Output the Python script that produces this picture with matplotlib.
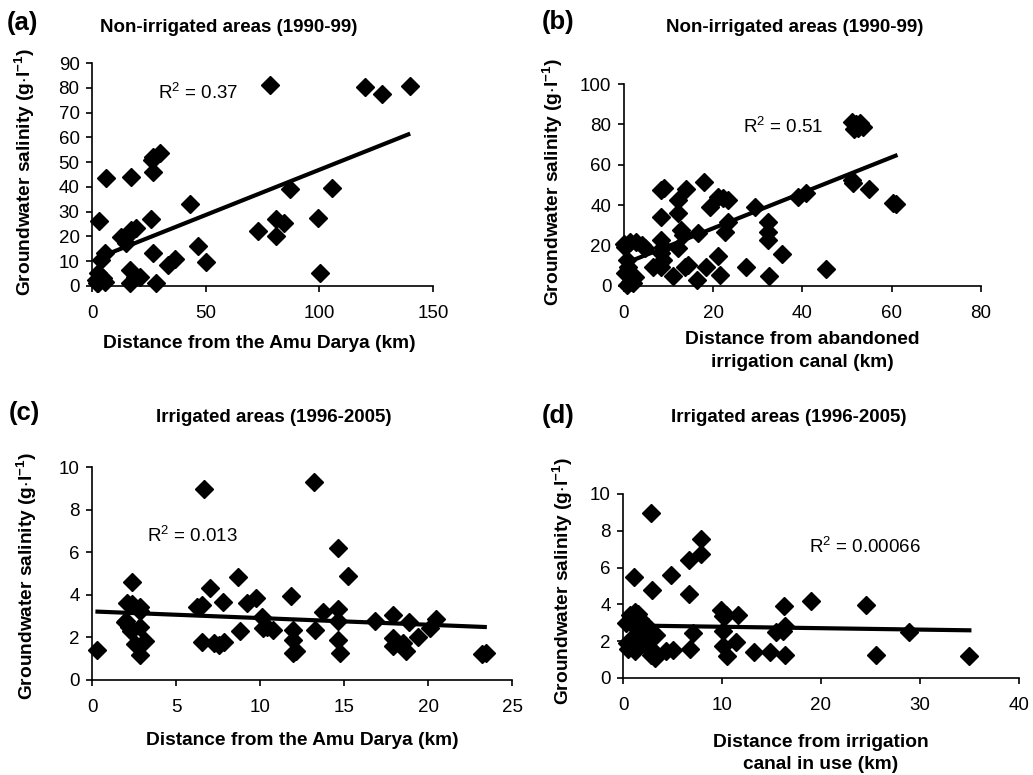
import numpy as np
import matplotlib
matplotlib.use("Agg")
import matplotlib.pyplot as plt

plt.rcParams['font.family'] = ['Liberation Sans', 'DejaVu Sans']
plt.rcParams['mathtext.default'] = 'regular'

# (a) non-irrigated, distance from the Amu Darya
dist_a = [30, 27, 26.5, 6.3, 17.3, 26.8, 43, 3.1, 26.1, 12.9, 15.8, 17.3, 19.5, 15.1,
          5.6, 4.1, 26.8, 46.6, 33.4, 36.6, 50.3, 2.6, 1.9, 4.8, 2.6, 2.2, 5.9,
          16.6, 18.8, 21, 16.6, 28.3, 73, 78.2, 80.8, 80.8, 84.3, 87.2, 99.4, 100.4,
          105.6, 120, 127.6, 140]
sal_a = [53.5, 52, 51, 43.5, 43.9, 45.9, 33.1, 26.4, 26.9, 19.9, 20.6, 22.6, 23.3, 17.2,
         13.2, 10.5, 13.2, 16.1, 8.5, 10.8, 9.8, 5.1, 2.4, 3.1, 1.1, 1.0, 1.6,
         6.5, 3.8, 3.8, 1.1, 1.1, 22, 81, 27.2, 20.2, 25.4, 39.3, 27.6, 5.2,
         39.6, 80.3, 77.6, 80.6]
trend_a = (0.365, 10.4)      # slope, intercept
trend_a_x = (4.5, 140)

# (b) non-irrigated, distance from abandoned canal
dist_b = [51, 52, 52.5, 53.5, 51.5, 53, 51, 51.4, 55, 60.3, 61, 39, 40.9, 29.4, 45.3,
          35.5, 32.3, 32.3, 32.3, 32.6, 27.3, 21.1, 22.3, 23.4, 22.6, 23.4, 19.3, 17.9,
          18.5, 16.3, 21.1, 21.5, 14, 12.2, 12.2, 12.9, 13.3, 12.2, 13.7, 14.4, 10.9,
          16.6, 8.4, 9, 8.2, 8.4, 8.8, 8.4, 8.8, 8.4, 6.6, 4.7, 4, 2.8, 0, 0.2, 1.3,
          0.6, 1, 0.2, 1.3, 2.1, 2.5, 0.6]
sal_b = [81, 80, 78, 78.5, 77.5, 80.5, 52.5, 50.8, 47.9, 41.3, 40.6, 44.2, 45.9, 38.9, 8.3,
         15.8, 31.8, 26.9, 22.8, 5, 9.6, 44.2, 43.4, 42.6, 26.9, 31.8, 39.3, 51.7,
         9.6, 3, 14.9, 5.4, 47.9, 42.6, 36, 27.7, 25.2, 18.6, 9.6, 10.4, 5,
         26.1, 47.5, 48.3, 34.3, 22.8, 19.5, 16.2, 12.9, 9.6, 9.6, 18.6, 20.3, 21.9, 21, 19.5, 21.9,
         12.9, 9.6, 6.3, 2.1, 1.3, 4.6, 0.5]
trend_b = (0.879, 11.0)
trend_b_x = (0.2, 61.3)

# (c) irrigated, distance from the Amu Darya
dist_c = [0.3, 2.38, 2.08, 2.38, 2.04, 2.18, 2.32, 2.87, 2.83, 2.87, 2.58, 3.13, 2.83, 1.95,
          6.24, 6.54, 6.68, 6.54, 7.03, 7.23, 7.53, 7.88, 7.79, 8.66, 8.78, 9.21, 9.77,
          10.1, 10.2, 10.4, 10.76, 11.83, 11.98, 11.98, 11.95, 12.14, 13.21, 13.27, 13.77,
          14.66, 14.66, 14.66, 14.62, 14.76, 15.21, 16.84, 17.93, 17.89, 17.93, 18.48, 18.68,
          18.88, 19.41, 20.1, 20.5, 23.24, 23.44]
sal_c = [1.39, 4.59, 3.6, 3.56, 2.75, 2.51, 2.28, 3.45, 3.25, 2.51, 1.68, 1.81, 1.15, 2.74,
         3.45, 3.53, 8.99, 1.78, 4.34, 1.73, 1.65, 1.78, 3.68, 4.84, 2.32, 3.6, 3.87,
         2.98, 2.43, 2.51, 2.36, 3.96, 2.36, 1.89, 1.26, 1.34, 9.3, 2.36, 3.21,
         6.18, 3.34, 2.75, 1.89, 1.26, 4.9, 2.78, 3.03, 1.97, 1.58, 1.73, 1.34,
         2.71, 2.0, 2.43, 2.87, 1.22, 1.26]
trend_c = (-0.0313, 3.22)
trend_c_x = (0.2, 23.5)

# (d) irrigated, distance from canal in use
dist_d = [2.86, 1.11, 2.97, 4.82, 6.64, 6.67, 7.92, 7.92, 7.08, 6.74, 5.05, 4.31, 3.37, 3.2,
          2.7, 2.53, 3.2, 2.86, 0.7, 1.2, 1.7, 0.7, 1.2, 0.5, 1.3, 0.35, 1.0, 1.5, 0.4, 1.5,
          2.2, 2.6, 9.94, 10.1, 10.4, 10.1, 10.1, 10.5, 11.6, 11.4, 13.2, 14.8, 15.5, 16.3,
          16.35, 16.2, 16.4, 19.0, 24.5, 25.6, 28.9, 35.0]
sal_d = [8.97, 5.47, 4.8, 5.58, 6.43, 4.57, 7.57, 6.74, 2.45, 1.59, 1.54, 1.49, 2.36, 1.36,
         1.63, 2.75, 1.09, 1.27, 3.4, 3.6, 3.2, 2.0, 1.45, 1.6, 2.4, 3.0, 2.9, 3.5, 1.9, 1.8,
         1.9, 1.6, 3.71, 3.35, 3.44, 2.54, 1.72, 1.18, 3.44, 1.94, 1.39, 1.39, 2.5, 3.9,
         2.81, 2.54, 1.27, 4.2, 3.99, 1.27, 2.5, 1.18]
trend_d = (-0.0077, 2.86)
trend_d_x = (0.17, 35.2)

panels = [
    dict(pos=[0.0891, 0.631, 0.330, 0.2877], x=dist_a, y=sal_a, tr=trend_a, trx=trend_a_x,
         xlim=150, xstep=50, ylim=90, ystep=10, r2='R$^2$ = 0.37', r2pos=(29, 78),
         xlabel='Distance from the Amu Darya (km)', letter='(a)',
         xl=(0.49, -0.256), yl=(-0.196, 0.511),
         title='Non-irrigated areas (1990-99)', lpos=(0.007, 0.970), tpos=(0.221, 0.965)),
    dict(pos=[0.604, 0.631, 0.3456, 0.2606], x=dist_b, y=sal_b, tr=trend_b, trx=trend_b_x,
         xlim=80, xstep=20, ylim=100, ystep=20, r2='R$^2$ = 0.51', r2pos=(26.7, 78.7),
         xlabel='Distance from abandoned\nirrigation canal (km)', letter='(b)',
         xl=(0.5, -0.322), yl=(-0.199, 0.515),
         title='Non-irrigated areas (1990-99)', lpos=(0.524, 0.971), tpos=(0.769, 0.965)),
    dict(pos=[0.0891, 0.1226, 0.4066, 0.2748], x=dist_c, y=sal_c, tr=trend_c, trx=trend_c_x,
         xlim=25, xstep=5, ylim=10, ystep=2, r2='R$^2$ = 0.013', r2pos=(3.3, 6.76),
         xlabel='Distance from the Amu Darya (km)', letter='(c)',
         xl=(0.5, -0.282), yl=(-0.154, 0.49),
         title='Irrigated areas (1996-2005)', lpos=(0.008, 0.467), tpos=(0.265, 0.461)),
    dict(pos=[0.6031, 0.1252, 0.3833, 0.2374], x=dist_d, y=sal_d, tr=trend_d, trx=trend_d_x,
         xlim=40, xstep=10, ylim=10, ystep=2, r2='R$^2$ = 0.00066', r2pos=(18.8, 7.1),
         xlabel='Distance from irrigation\ncanal in use (km)', letter='(d)',
         xl=(0.5, -0.41), yl=(-0.152, 0.527),
         title='Irrigated areas (1996-2005)', lpos=(0.524, 0.463), tpos=(0.764, 0.461)),
]

fig = plt.figure(figsize=(10.33, 7.75), dpi=100)

for p in panels:
    ax = fig.add_axes(p['pos'])
    ax.plot(p['x'], p['y'], linestyle='none', marker='D', markersize=8.8,
            color='black', clip_on=False, zorder=3)
    xs = np.array(p['trx'])
    ax.plot(xs, p['tr'][0] * xs + p['tr'][1], color='black', linewidth=3,
            solid_capstyle='butt', zorder=4)
    ax.set_xlim(0, p['xlim'])
    ax.set_ylim(0, p['ylim'])
    ax.set_xticks(np.arange(0, p['xlim'] + 1e-9, p['xstep']))
    ax.set_yticks(np.arange(0, p['ylim'] + 1e-9, p['ystep']))
    for s in ['top', 'right']:
        ax.spines[s].set_visible(False)
    for s in ['left', 'bottom']:
        ax.spines[s].set_linewidth(1.2)
    ax.tick_params(direction='out', length=4, width=1.2, labelsize=13.5)
    ax.tick_params(axis='x', pad=9.5)
    ax.tick_params(axis='y', pad=5)
    ax.set_xlabel(p['xlabel'], fontsize=13.8, fontweight='bold', linespacing=1.4,
                  va='center')
    ax.set_ylabel('Groundwater salinity (g$\\cdot$l$^{-1}$)', fontsize=13.8,
                  fontweight='bold', va='center')
    ax.xaxis.set_label_coords(*p['xl'])
    ax.yaxis.set_label_coords(*p['yl'])
    ax.text(p['r2pos'][0], p['r2pos'][1], p['r2'], fontsize=13.5, va='center', ha='left')
    fig.text(p['lpos'][0], p['lpos'][1], p['letter'], fontsize=18.5, fontweight='bold',
             va='center', ha='left')
    fig.text(p['tpos'][0], p['tpos'][1], p['title'], fontsize=13.5, fontweight='bold',
             va='center', ha='center')

fig.savefig('out.png', dpi=100)
